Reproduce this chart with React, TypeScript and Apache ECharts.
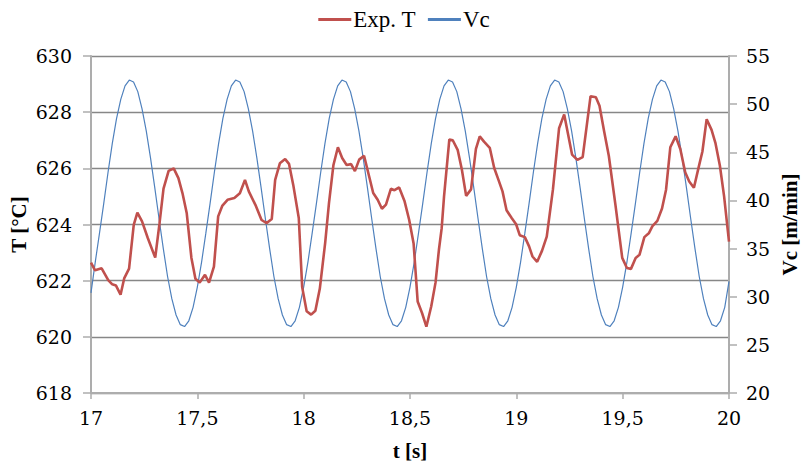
import React, { useEffect, useRef } from "react";
import * as echarts from "echarts";

// Exp. T (°C) – traced vertices
const expTime = [
  17.0, 17.019, 17.05, 17.081, 17.1, 17.117, 17.139, 17.156, 17.179, 17.201,
  17.218, 17.24, 17.267, 17.302, 17.322, 17.341, 17.365, 17.389, 17.411, 17.43,
  17.45, 17.472, 17.491, 17.511, 17.536, 17.555, 17.578, 17.598, 17.617, 17.642,
  17.674, 17.7, 17.724, 17.742, 17.773, 17.802, 17.826, 17.85, 17.866, 17.888,
  17.913, 17.931, 17.951, 17.977, 17.993, 18.014, 18.035, 18.055, 18.076, 18.101,
  18.119, 18.14, 18.161, 18.181, 18.202, 18.223, 18.241, 18.261, 18.284, 18.308,
  18.327, 18.348, 18.368, 18.387, 18.41, 18.427, 18.449, 18.474, 18.496, 18.517,
  18.536, 18.557, 18.577, 18.6, 18.62, 18.636, 18.649, 18.66, 18.685, 18.701,
  18.724, 18.744, 18.764, 18.787, 18.81, 18.828, 18.848, 18.875, 18.896, 18.916,
  18.935, 18.954, 18.978, 18.999, 19.016, 19.04, 19.06, 19.076, 19.098, 19.121,
  19.143, 19.172, 19.201, 19.225, 19.262, 19.287, 19.312, 19.349, 19.374, 19.391,
  19.413, 19.435, 19.466, 19.498, 19.52, 19.539, 19.561, 19.579, 19.602, 19.624,
  19.64, 19.663, 19.685, 19.704, 19.724, 19.749, 19.771, 19.794, 19.813, 19.835,
  19.858, 19.875, 19.895, 19.918, 19.936, 19.957, 19.977, 20.0,
];
const expT = [
  622.64, 622.37, 622.44, 622.02, 621.87, 621.83, 621.5, 622.08, 622.43, 623.99,
  624.42, 624.11, 623.52, 622.82, 624.03, 625.28, 625.91, 626.0, 625.65, 625.12,
  624.41, 622.82, 622.07, 621.93, 622.21, 621.93, 622.5, 624.29, 624.66, 624.88,
  624.94, 625.11, 625.59, 625.18, 624.7, 624.16, 624.05, 624.2, 625.59, 626.18,
  626.33, 626.16, 625.41, 624.23, 621.77, 620.91, 620.79, 620.93, 621.72, 623.34,
  624.76, 626.12, 626.75, 626.37, 626.12, 626.15, 625.9, 626.31, 626.45, 625.71,
  625.12, 624.88, 624.56, 624.71, 625.27, 625.22, 625.32, 624.84, 624.17, 623.32,
  621.26, 620.84, 620.36, 621.09, 621.93, 623.1, 623.87, 624.99, 627.03, 627.0,
  626.66, 625.95, 625.02, 625.25, 626.69, 627.14, 626.95, 626.73, 626.01, 625.59,
  625.18, 624.51, 624.23, 624.01, 623.62, 623.55, 623.22, 622.86, 622.67, 623.07,
  623.57, 625.24, 627.43, 627.92, 626.49, 626.3, 626.4, 628.57, 628.53, 628.23,
  627.31, 626.44, 624.7, 622.81, 622.45, 622.42, 622.81, 622.92, 623.55, 623.7,
  623.94, 624.13, 624.57, 625.24, 626.75, 627.14, 626.69, 625.86, 625.53, 625.31,
  626.06, 626.6, 627.75, 627.37, 626.91, 626.1, 625.0, 623.39,
];

// Vc (m/min) – sampled every 0.02 s from t = 17
const vcStart = 17;
const vcStep = 0.02;
const vc = [
  30.4, 33.6, 36.6, 39.7, 42.9, 45.9, 48.5, 50.5, 51.9, 52.5, 52.3, 51.3, 49.5, 47.2, 44.4, 41.3, 38.1, 35.0, 32.1, 29.8, 28.1, 27.1, 26.9, 27.5, 28.9,
  31.0, 33.6, 36.6, 39.7, 42.9, 45.9, 48.5, 50.5, 51.9, 52.5, 52.3, 51.3, 49.5, 47.2, 44.4, 41.3, 38.1, 35.0, 32.1, 29.8, 28.1, 27.1, 26.9, 27.5, 28.9,
  31.0, 33.6, 36.6, 39.7, 42.9, 45.9, 48.5, 50.5, 51.9, 52.5, 52.3, 51.3, 49.5, 47.2, 44.4, 41.3, 38.1, 35.0, 32.1, 29.8, 28.1, 27.1, 26.9, 27.5, 28.9,
  31.0, 33.6, 36.6, 39.7, 42.9, 45.9, 48.5, 50.5, 51.9, 52.5, 52.3, 51.3, 49.5, 47.2, 44.4, 41.3, 38.1, 35.0, 32.1, 29.8, 28.1, 27.1, 26.9, 27.5, 28.9,
  31.0, 33.6, 36.6, 39.7, 42.9, 45.9, 48.5, 50.5, 51.9, 52.5, 52.3, 51.3, 49.5, 47.2, 44.4, 41.3, 38.1, 35.0, 32.1, 29.8, 28.1, 27.1, 26.9, 27.5, 28.9,
  31.0, 33.6, 36.6, 39.7, 42.9, 45.9, 48.5, 50.5, 51.9, 52.5, 52.3, 51.3, 49.5, 47.2, 44.4, 41.3, 38.1, 35.0, 32.1, 29.8, 28.1, 27.1, 26.9, 27.5, 28.9,
  31.6,
];

// Tick labels
const xTicks = [17, 17.5, 18, 18.5, 19, 19.5, 20];
const yTicks = [618, 620, 622, 624, 626, 628, 630];
const y2Ticks = [20, 25, 30, 35, 40, 45, 50, 55];

const FONT = "Liberation Serif";
const DIGIT_FONT = "19px 'DejaVu Serif'";

export default function App() {
  const ref = useRef<HTMLDivElement>(null);
  useEffect(() => {
    document.body.style.margin = "0";
    if (!ref.current) return;
    const chart = echarts.init(ref.current, null, { renderer: "svg" });
    const expData = expTime.map((t, i) => [t, expT[i]]);
    const vcData = vc.map((v, i) => [vcStart + i * vcStep, v]);
    const nameStyle = { color: "#000", fontFamily: FONT, fontSize: 21, fontWeight: "bold" as const };
    chart.setOption({
      animation: false,
      backgroundColor: "#fff",
      textStyle: { fontFamily: FONT, color: "#000" },
      legend: {
        top: 3,
        left: "center",
        itemWidth: 33,
        itemHeight: 3,
        itemGap: 12,
        icon: "rect",
        textStyle: { color: "#000", fontFamily: FONT, fontSize: 23, padding: [0, 0, 0, -3] },
        data: ["Exp. T", "Vc"],
      },
      grid: { left: 91, right: 74, top: 56, bottom: 72.5, containLabel: false },
      xAxis: {
        type: "value",
        min: 17,
        max: 20,
        interval: 0.5,
        name: "t [s]",
        nameLocation: "middle",
        nameGap: 47,
        nameTextStyle: nameStyle,
        axisLine: { show: true, lineStyle: { color: "#ADADAD", width: 2 } },
        axisTick: { show: true, length: 6, lineStyle: { color: "#ADADAD", width: 1.5 } },
        axisLabel: { show: false },
        splitLine: { show: false },
      },
      yAxis: [
        {
          type: "value",
          min: 618,
          max: 630,
          interval: 2,
          name: "T [°C]",
          nameLocation: "middle",
          nameGap: 62,
          nameRotate: 90,
          nameTextStyle: nameStyle,
          axisLine: { show: true, lineStyle: { color: "#ADADAD", width: 2 } },
          axisTick: { show: true, length: 8, lineStyle: { color: "#ADADAD", width: 1.5 } },
          axisLabel: { show: false },
          splitLine: { show: true, lineStyle: { color: "#878787", width: 1.3 } },
        },
        {
          type: "value",
          min: 20,
          max: 55,
          interval: 5,
          name: "Vc [m/min]",
          nameLocation: "middle",
          nameGap: 50,
          nameRotate: 90,
          nameTextStyle: nameStyle,
          axisLine: { show: true, lineStyle: { color: "#ADADAD", width: 2 } },
          axisTick: { show: true, length: 8, lineStyle: { color: "#ADADAD", width: 1.5 } },
          axisLabel: { show: false },
          splitLine: { show: false },
        },
      ],
      series: [
        {
          name: "Exp. T",
          type: "line",
          yAxisIndex: 0,
          data: expData,
          showSymbol: false,
          symbol: "none",
          z: 3,
          itemStyle: { color: "#C0504D" },
          lineStyle: { color: "#C0504D", width: 2.6 },
        },
        {
          name: "Vc",
          type: "line",
          yAxisIndex: 1,
          data: vcData,
          showSymbol: false,
          symbol: "none",
          z: 2,
          itemStyle: { color: "#4F81BD" },
          lineStyle: { color: "#4F81BD", width: 1.2 },
        },
      ],
    });

    // Tick labels placed through the axes' own scales
    const x0 = chart.convertToPixel({ xAxisIndex: 0 }, 17) as number;
    const x1 = chart.convertToPixel({ xAxisIndex: 0 }, 20) as number;
    const yBottom = chart.convertToPixel({ yAxisIndex: 0 }, 618) as number;
    const txt = (text: string, x: number, y: number, align: string, vAlign: string) => ({
      type: "text",
      x,
      y,
      silent: true,
      style: {
        text,
        fill: "#000",
        font: DIGIT_FONT,
        align,
        verticalAlign: vAlign,
      },
    });
    const graphics: any[] = [];
    xTicks.forEach((v) => {
      const px = chart.convertToPixel({ xAxisIndex: 0 }, v) as number;
      graphics.push(txt(String(v).replace(".", ","), px, yBottom + 15, "center", "top"));
    });
    yTicks.forEach((v) => {
      const py = chart.convertToPixel({ yAxisIndex: 0 }, v) as number;
      graphics.push(txt(String(v), x0 - 19, py, "right", "middle"));
    });
    y2Ticks.forEach((v) => {
      const py = chart.convertToPixel({ yAxisIndex: 1 }, v) as number;
      graphics.push(txt(String(v), x1 + 17, py, "left", "middle"));
    });
    chart.setOption({ graphic: graphics });

    return () => chart.dispose();
  }, []);
  return <div ref={ref} style={{ width: 808, height: 466 }} />;
}
